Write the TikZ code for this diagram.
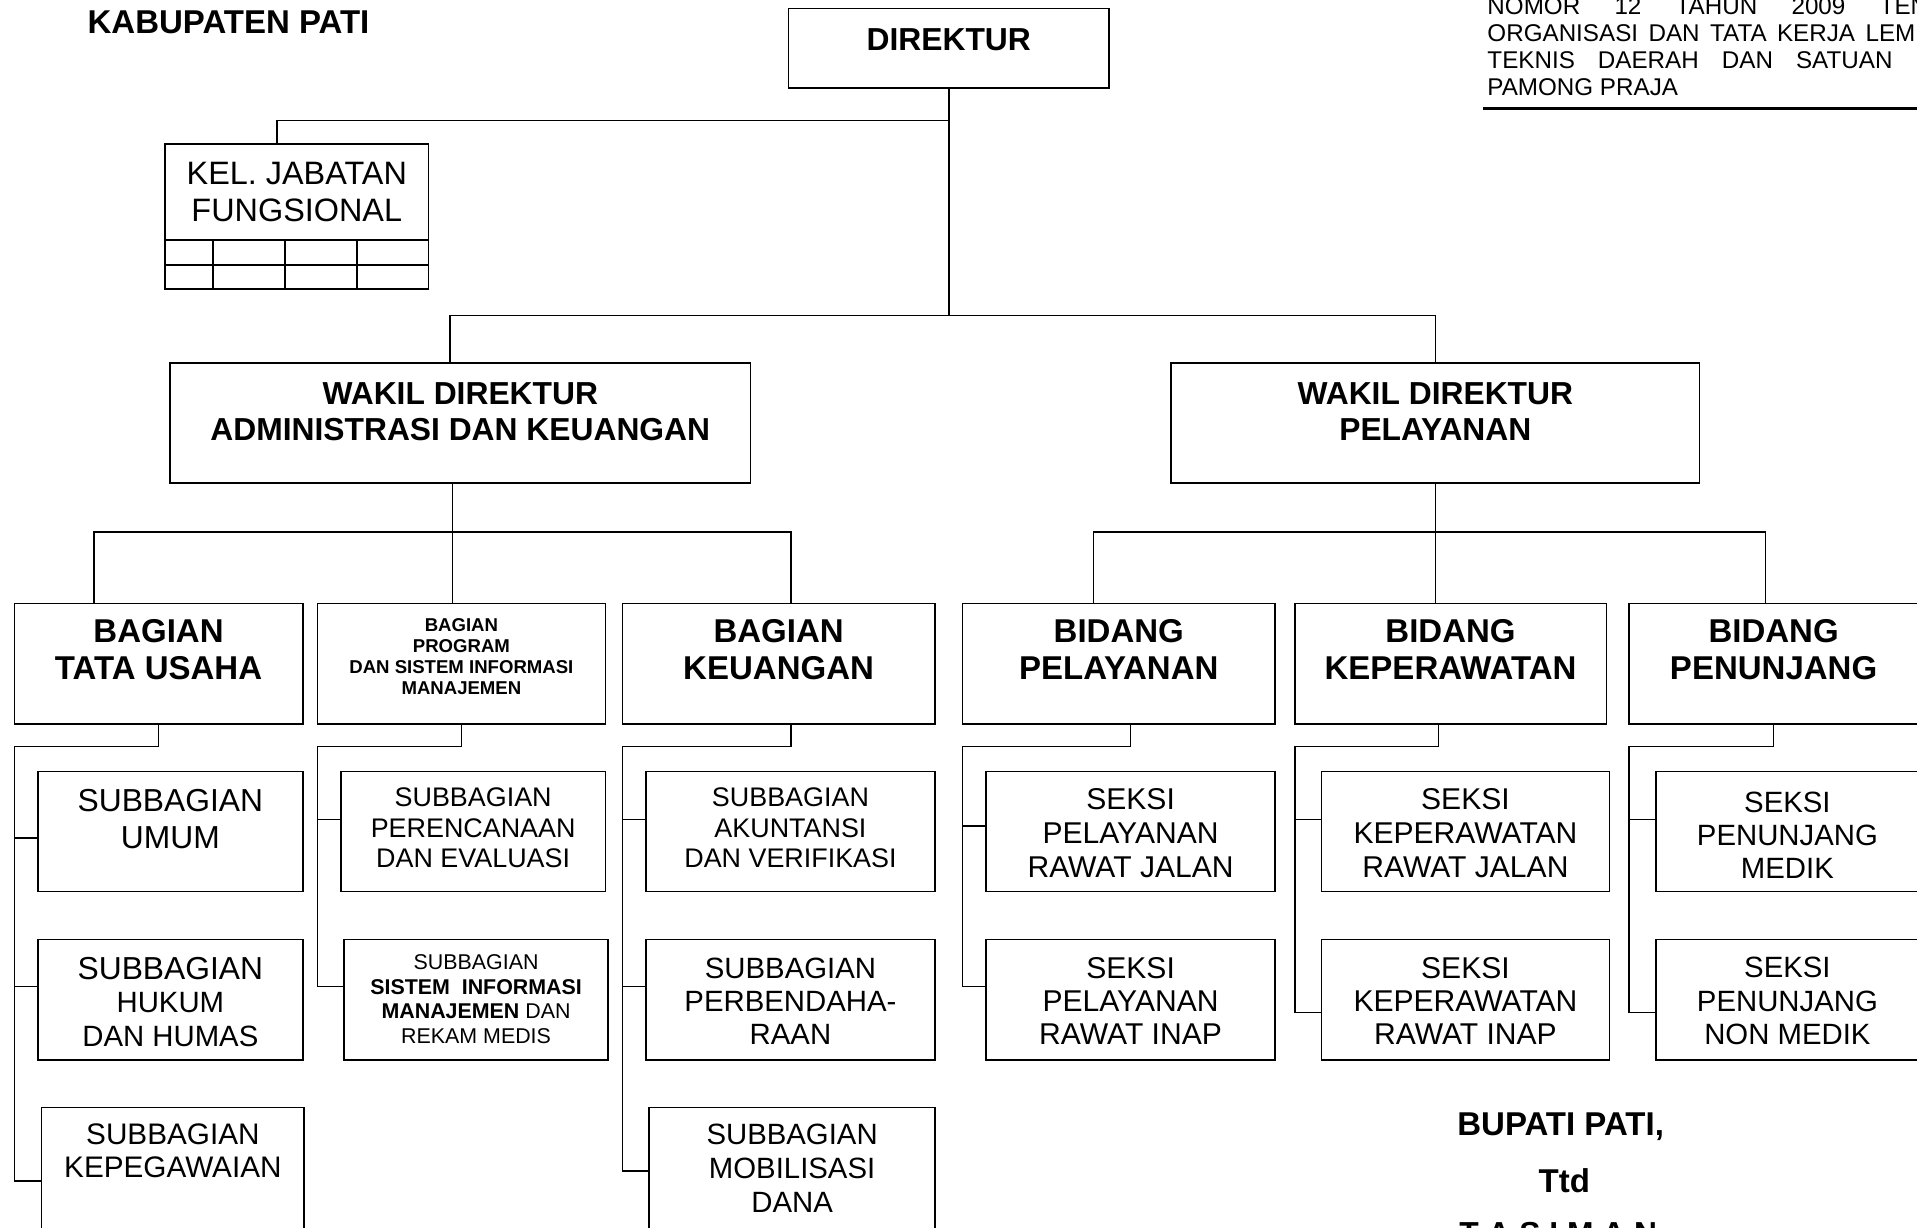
\documentclass[tikz,border=0pt]{standalone}
\usepackage{fontspec}
\setmainfont{Liberation Sans}
\begin{document}
\begin{tikzpicture}[x=1pt,y=-1pt,line width=1.3pt,
orgbox/.style 2 args={draw,inner sep=0pt,outer sep=0pt,anchor=north west,minimum width=#1,minimum height=#2},
headtxt/.style={align=center,inner sep=0pt,font=\bfseries\fontsize{#1}{30}\selectfont},headtxt/.default=27,
subtxt/.style 2 args={align=center,inner sep=0pt,font=\fontsize{#1}{#2}\selectfont}]
\useasboundingbox (0,0) rectangle (1568,1004);
\clip (0,0) rectangle (1568,1004);
\node[headtxt,anchor=base west] (kab) at (71,27.3) {KABUPATEN PATI};
\node[anchor=west,align=left,inner sep=0pt,font=\fontsize{19.8}{22}\selectfont] (perda) at (1216,37.9) {\makebox[414pt][s]{NOMOR 12 TAHUN 2009 TENTANG}\\\makebox[405pt][s]{ORGANISASI DAN TATA KERJA LEMBAGA}\\\makebox[414pt][s]{TEKNIS DAERAH DAN SATUAN POLISI}\\PAMONG PRAJA};
\draw[line width=2.2pt] (1213,88.5)--(1580,88.5);
\node[orgbox={262}{65}] (dir) at (645,7) {};
\node[headtxt=26,anchor=base] (dir-t) at (776,41) {DIREKTUR};
\node[orgbox={215.5}{118.4}] (kel) at (135,118) {};
\node[subtxt={26.5}{30}] (kel-t) at (242.75,156.8) {KEL. JABATAN\\FUNGSIONAL};
\draw (135,196.3)--(350.5,196.3) (135,216.8)--(350.5,216.8);
\foreach \x in {174.2,233,292} \draw (\x,196.3)--(\x,236.4);
\node[orgbox={475}{98}] (wadm) at (139,297) {};
\node[headtxt=26] (wadm-t) at (376.5,336.7) {WAKIL DIREKTUR\\ADMINISTRASI DAN KEUANGAN};
\node[orgbox={432}{98}] (wpel) at (958,297) {};
\node[headtxt=26] (wpel-t) at (1174,336.7) {WAKIL DIREKTUR\\PELAYANAN};
\node[orgbox={236}{98.7}] (btu) at (11.7,493.5) {};
\node[headtxt] (btu-t) at (129.7,531.5) {BAGIAN\\TATA USAHA};
\node[orgbox={235.4}{98.7}] (bprog) at (259.7,493.5) {};
\node[headtxt,font=\bfseries\fontsize{15.2}{17.3}\selectfont] (bprog-t) at (377.4,537.2) {BAGIAN\\PROGRAM\\DAN SISTEM INFORMASI\\MANAJEMEN};
\node[orgbox={255.7}{98.7}] (bkeu) at (509,493.5) {};
\node[headtxt] (bkeu-t) at (636.85,531.5) {BAGIAN\\KEUANGAN};
\node[orgbox={255.4}{98.7}] (bpel) at (787.4,493.5) {};
\node[headtxt] (bpel-t) at (915.1,531.5) {BIDANG\\PELAYANAN};
\node[orgbox={254.9}{98.7}] (bkep) at (1059,493.5) {};
\node[headtxt] (bkep-t) at (1186.45,531.5) {BIDANG\\KEPERAWATAN};
\node[orgbox={236.6}{98.7}] (bpen) at (1332.4,493.5) {};
\node[headtxt] (bpen-t) at (1450.7,531.5) {BIDANG\\PENUNJANG};
\node[orgbox={216.7}{98.1}] (umum) at (31,631.2) {};
\node[subtxt={26}{29.5}] (umum-t) at (139.35,669.95) {SUBBAGIAN\\UMUM};
\node[orgbox={216.3}{98.1}] (perenc) at (278.8,631.2) {};
\node[subtxt={22}{25.2}] (perenc-t) at (387,677.1) {SUBBAGIAN\\PERENCANAAN\\DAN EVALUASI};
\node[orgbox={236.3}{98.1}] (akunt) at (528.4,631.2) {};
\node[subtxt={22}{25.2}] (akunt-t) at (646.55,677.1) {SUBBAGIAN\\AKUNTANSI\\DAN VERIFIKASI};
\node[orgbox={236.1}{98.1}] (pelrj) at (806.7,631.2) {};
\node[subtxt={24.6}{27.7}] (pelrj-t) at (924.75,681.4) {SEKSI\\PELAYANAN\\RAWAT JALAN};
\node[orgbox={235.5}{98.1}] (keprj) at (1080.9,631.2) {};
\node[subtxt={24.6}{27.7}] (keprj-t) at (1198.65,681.4) {SEKSI\\KEPERAWATAN\\RAWAT JALAN};
\node[orgbox={214.8}{98.1}] (penmed) at (1354.6,631.2) {};
\node[subtxt={24}{27.3}] (penmed-t) at (1462,683.2) {SEKSI\\PENUNJANG\\MEDIK};
\node[orgbox={216.7}{98.5}] (hukum) at (31,768.5) {};
\node[subtxt={24}{27.3}] (hukum-t) at (139.35,819.6) {{\fontsize{26}{27.3}\selectfont SUBBAGIAN}\\HUKUM\\DAN HUMAS};
\node[orgbox={216}{98.5}] (sim) at (281.4,768.5) {};
\node[subtxt={17.5}{20.2}] (sim-t) at (389.4,817.1) {SUBBAGIAN\\\textbf{SISTEM\ \ INFORMASI}\\\textbf{MANAJEMEN} DAN\\REKAM MEDIS};
\node[orgbox={236.3}{98.5}] (perbend) at (528.4,768.5) {};
\node[subtxt={24}{27.3}] (perbend-t) at (646.55,818.9) {SUBBAGIAN\\PERBENDAHA-\\RAAN};
\node[orgbox={236.1}{98.5}] (pelri) at (806.7,768.5) {};
\node[subtxt={24.6}{27.3}] (pelri-t) at (924.75,818.7) {SEKSI\\PELAYANAN\\RAWAT INAP};
\node[orgbox={235.5}{98.5}] (kepri) at (1080.9,768.5) {};
\node[subtxt={24.6}{27.3}] (kepri-t) at (1198.65,818.7) {SEKSI\\KEPERAWATAN\\RAWAT INAP};
\node[orgbox={214.8}{98.5}] (pennon) at (1354.6,768.5) {};
\node[subtxt={24}{27.3}] (pennon-t) at (1462,818.9) {SEKSI\\PENUNJANG\\NON MEDIK};
\node[orgbox={214.8}{110}] (kepeg) at (34,905.7) {};
\node[subtxt={24.3}{27.3}] (kepeg-t) at (141.4,941.5) {SUBBAGIAN\\KEPEGAWAIAN};
\node[orgbox={233.8}{110}] (mobil) at (531,905.7) {};
\node[subtxt={24}{27.8}] (mobil-t) at (647.9,955.7) {SUBBAGIAN\\MOBILISASI\\DANA};
\node[headtxt,anchor=base] (bupati) at (1276.5,929) {BUPATI PATI,};
\node[headtxt,anchor=base] (ttd) at (1279.5,975.3) {Ttd};
\node[headtxt=26,anchor=base] (nama) at (1274.5,1017.8) {T A S I M A N};
\coordinate (bar0) at (776,98.7);
\coordinate (bar1) at (776,258);
\coordinate (bar2) at (370,435);
\coordinate (bar3) at (1174,435);
\draw (dir.south)--(bar1);
\draw ([xshift=-16.35pt]kel.north) |- (bar0);
\draw ([xshift=-8.5pt]wadm.north) |- (bar1) -| (wpel.north);
\draw ([xshift=-6.5pt]wadm.south)--(bar2 |- bprog.north);
\draw ([xshift=-52.7pt]btu.north) |- (bar2) -| ([xshift=9.95pt]bkeu.north);
\draw (wpel.south)--(wpel.south |- bkep.north);
\draw ([xshift=-20.8pt]bpel.north) |- (bar3) -| ([xshift=-6.5pt]bpen.north);
\coordinate (t1) at ([yshift=-18.5pt]btu.south west);
\coordinate (t2) at ([yshift=-18.5pt]bprog.south west);
\coordinate (t3) at ([yshift=-18.5pt]bkeu.south west);
\coordinate (t4) at ([yshift=-18.5pt]bpel.south west);
\coordinate (t5) at ([yshift=-18.5pt]bkep.south west);
\coordinate (t6) at ([yshift=-18.5pt]bpen.south west);
\draw (btu.south) |- (t1) |- ([yshift=-5pt]umum.west) (t1) |- ([yshift=10.75pt]hukum.west) (t1) |- ([yshift=49.7pt]kepeg.south west);
\draw (bprog.south) |- (t2) |- ([yshift=10pt]perenc.west) (t2) |- ([yshift=10.75pt]sim.west);
\draw ([xshift=10pt]bkeu.south) |- (t3) |- ([yshift=10pt]akunt.west) (t3) |- ([yshift=10.75pt]perbend.west) (t3) |- ([yshift=57.7pt]mobil.south west);
\draw ([xshift=9.5pt]bpel.south) |- (t4) |- ([yshift=4.75pt]pelrj.west) (t4) |- ([yshift=10.75pt]pelri.west);
\draw ([xshift=-10pt]bkep.south) |- (t5) |- ([yshift=10pt]keprj.west) (t5) |- ([yshift=-10.5pt]kepri.west);
\draw (bpen.south) |- (t6) |- ([yshift=10pt]penmed.west) (t6) |- ([yshift=-10.5pt]pennon.west);
\end{tikzpicture}
\end{document}
